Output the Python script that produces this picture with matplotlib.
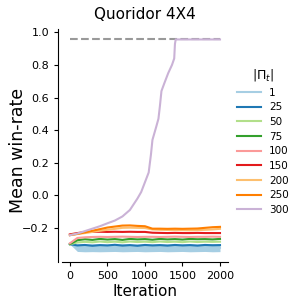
import matplotlib
matplotlib.use("Agg")
import matplotlib.pyplot as plt
import numpy as np

# iteration grid for the flat series
iters = [0, 100, 200, 300, 400, 500, 600, 700, 800, 900, 1000,
         1100, 1200, 1300, 1400, 1500, 1600, 1700, 1800, 1900, 2000]

# |Pi_t| = 1 shows as a wide noisy band
band1_low = [-0.300, -0.345, -0.347, -0.346, -0.347, -0.346, -0.345, -0.347, -0.346, -0.345, -0.347,
             -0.346, -0.345, -0.347, -0.346, -0.345, -0.347, -0.346, -0.345, -0.347, -0.346]
band1_high = [-0.298, -0.299, -0.300, -0.298, -0.299, -0.300, -0.299, -0.298, -0.300, -0.299, -0.299,
              -0.300, -0.298, -0.299, -0.300, -0.299, -0.298, -0.300, -0.299, -0.298, -0.299]

wr25 = [-0.300, -0.308, -0.305, -0.310, -0.306, -0.308, -0.304, -0.309, -0.306, -0.310, -0.305,
        -0.308, -0.306, -0.309, -0.305, -0.308, -0.306, -0.309, -0.305, -0.307, -0.306]
wr50 = [-0.300, -0.290, -0.286, -0.289, -0.284, -0.288, -0.285, -0.289, -0.284, -0.287, -0.285,
        -0.288, -0.284, -0.287, -0.285, -0.288, -0.284, -0.287, -0.285, -0.286, -0.285]
wr75 = [-0.300, -0.276, -0.270, -0.274, -0.268, -0.272, -0.269, -0.274, -0.268, -0.271, -0.269,
        -0.273, -0.268, -0.271, -0.269, -0.272, -0.268, -0.270, -0.269, -0.271, -0.268]
wr100 = [-0.295, -0.262, -0.258, -0.256, -0.255, -0.256, -0.255, -0.254, -0.255, -0.256, -0.255,
         -0.255, -0.256, -0.255, -0.254, -0.255, -0.256, -0.255, -0.255, -0.254, -0.255]
wr150 = [-0.240, -0.232, -0.226, -0.225, -0.224, -0.225, -0.224, -0.225, -0.224, -0.225, -0.225,
         -0.230, -0.231, -0.232, -0.231, -0.232, -0.232, -0.231, -0.232, -0.232, -0.232]
wr200 = [-0.245, -0.238, -0.232, -0.225, -0.218, -0.212, -0.206, -0.200, -0.199, -0.200, -0.201,
         -0.210, -0.212, -0.213, -0.214, -0.214, -0.215, -0.214, -0.212, -0.210, -0.206]
wr250 = [-0.245, -0.237, -0.228, -0.218, -0.208, -0.198, -0.192, -0.186, -0.185, -0.188, -0.190,
         -0.205, -0.205, -0.206, -0.205, -0.206, -0.205, -0.204, -0.200, -0.196, -0.194]

# |Pi_t| = 300 climbs to the optimum
iters300 = [0, 100, 200, 300, 400, 500, 600, 700, 800, 900, 950, 1000, 1050, 1080, 1100,
            1150, 1180, 1200, 1220, 1260, 1310, 1360, 1390, 1400, 1410, 1600, 1800, 2000]
wr300 = [-0.245, -0.235, -0.22, -0.205, -0.19, -0.172, -0.155, -0.13, -0.09, -0.02, 0.02,
         0.08, 0.14, 0.25, 0.34, 0.42, 0.47, 0.55, 0.64, 0.69, 0.75, 0.80, 0.84, 0.93,
         0.957, 0.957, 0.957, 0.957]

optimum = 0.957

labels = ["1", "25", "50", "75", "100", "150", "200", "250", "300"]
colors = ['#a6cee3', '#1f78b4', '#b2df8a', '#33a02c', '#fb9a99',
          '#e31a1c', '#fdbf6f', '#ff7f00', '#cab2d6']

fig = plt.figure(figsize=(2.97, 3.04), dpi=100)
ax = fig.add_axes([0.21, 0.138, 0.556, 0.766])

ax.plot([0, 2000], [optimum, optimum], color='gray', linestyle='--', linewidth=1.5, alpha=0.8)

ax.fill_between(iters, band1_low, band1_high, color=colors[0], linewidth=0)
ax.plot(iters, np.mean([band1_low, band1_high], axis=0), color=colors[0], lw=1.5, label=labels[0])

series = [wr25, wr50, wr75, wr100, wr150, wr200, wr250]
for vals, c, lab in zip(series, colors[1:8], labels[1:8]):
    ax.plot(iters, vals, color=c, lw=1.5, label=lab)

ax.plot(iters300, wr300, color=colors[8], lw=1.5, label=labels[8])

ax.set_xlim(-100, 2100)
ax.set_ylim(-0.41, 1.02)
ax.set_xticks([0, 500, 1000, 1500, 2000])
ax.set_yticks([-0.2, 0.0, 0.2, 0.4, 0.6, 0.8, 1.0])
ax.tick_params(labelsize=8, length=3)

ax.spines['top'].set_visible(False)
ax.spines['right'].set_visible(False)
ax.spines['left'].set_position(('outward', 3))

ax.set_title('Quoridor 4X4', fontsize=11, pad=7)
ax.set_xlabel('Iteration', fontsize=11, labelpad=2)
ax.set_ylabel('Mean win-rate', fontsize=12.5)
ax.yaxis.set_label_coords(-0.215, 0.48)

leg = ax.legend(loc='center left', bbox_to_anchor=(1.0, 0.52), frameon=False,
                fontsize=7.5, title=r'$|\Pi_t|$', title_fontsize=9,
                labelspacing=0.45, handlelength=2.3)

plt.savefig('out.png', dpi=100)
